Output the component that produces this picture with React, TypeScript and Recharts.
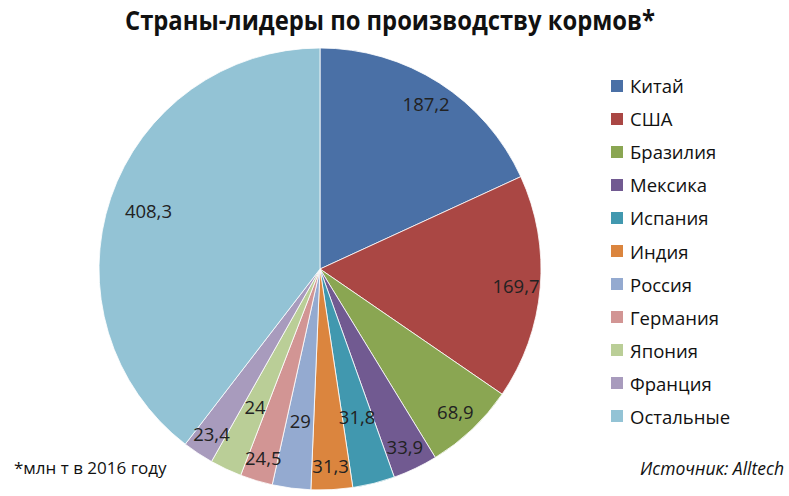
import React from 'react';
import { PieChart, Pie, Cell, Legend } from 'recharts';

// млн т, 2016
const countries = ['Китай', 'США', 'Бразилия', 'Мексика', 'Испания', 'Индия', 'Россия', 'Германия', 'Япония', 'Франция', 'Остальные'];
const volumes = [187.2, 169.7, 68.9, 33.9, 31.8, 31.3, 29, 24.5, 24, 23.4, 408.3];
const colors = ['#4A70A6', '#AA4744', '#8AA652', '#715A91', '#4198AF', '#DB853E', '#94AAD0', '#D29594', '#BACE97', '#A89BBD', '#93C3D5'];

const data = countries.map((name, i) => ({ name, value: volumes[i] }));

// small slices whose labels sit closer to the centre (Excel "best fit")
const innerLabels = new Set([4, 6, 8]);

const RAD = Math.PI / 180;
const font = '"Open Sans", "Noto Sans", sans-serif';

const renderLabel = (props: any) => {
  const { cx, cy, midAngle, outerRadius, value, index } = props;
  let k = 0.89;
  if (innerLabels.has(index)) k = 0.69;
  if (index === countries.length - 1) k = 0.82;
  const r = outerRadius * k;
  const x = cx + r * Math.cos(-midAngle * RAD);
  const y = cy + r * Math.sin(-midAngle * RAD);
  return (
    <text x={x} y={y} textAnchor="middle" dominantBaseline="central" fill="#222" fontSize={18.5} fontFamily={font}>
      {String(value).replace('.', ',')}
    </text>
  );
};

// keep the legend in data order (Recharts sorts it by name otherwise)
const renderLegend = () => (
  <div>
    {countries.map((name, i) => (
      <div key={name} style={{ display: 'flex', alignItems: 'center', height: 33.1 }}>
        <span style={{ width: 12, height: 12, background: colors[i], display: 'inline-block', marginRight: 7 }} />
        <span style={{ fontFamily: font, fontSize: 18.5, color: '#111' }}>{name}</span>
      </div>
    ))}
  </div>
);

const App: React.FC = () => {
  return (
    <div style={{ position: 'absolute', left: 0, top: 0, width: 789, height: 496, background: '#fff' }}>
      <svg width={789} height={40} style={{ position: 'absolute', left: 0, top: 0 }}>
        <text x={390} y={30} textAnchor="middle" fontFamily={font} fontWeight="bold" fontSize={26}
          textLength={530} lengthAdjust="spacingAndGlyphs" fill="#111">
          Страны-лидеры по производству кормов*
        </text>
      </svg>
      <PieChart width={789} height={496} margin={{ top: 0, right: 0, bottom: 0, left: 0 }} style={{ position: 'absolute', left: 0, top: 0 }}>
        <Pie
          data={data}
          dataKey="value"
          nameKey="name"
          cx={320}
          cy={269}
          outerRadius={221}
          startAngle={90}
          endAngle={-270}
          stroke="#fff"
          strokeWidth={0.8}
          label={renderLabel}
          labelLine={false}
          isAnimationActive={false}
        >
          {data.map((d, i) => (
            <Cell key={d.name} fill={colors[i]} />
          ))}
        </Pie>
        <Legend
          content={renderLegend}
          layout="vertical"
          wrapperStyle={{ position: 'absolute', left: 611, top: 69, width: 175 }}
        />
      </PieChart>
      <div style={{ position: 'absolute', left: 14, top: 456, fontFamily: font, fontSize: 17, color: '#111' }}>
        *млн т в 2016 году
      </div>
      <div style={{ position: 'absolute', right: 5, top: 456, fontFamily: font, fontSize: 17.5, fontStyle: 'italic', color: '#111' }}>
        Источник: Alltech
      </div>
    </div>
  );
};

export default App;
